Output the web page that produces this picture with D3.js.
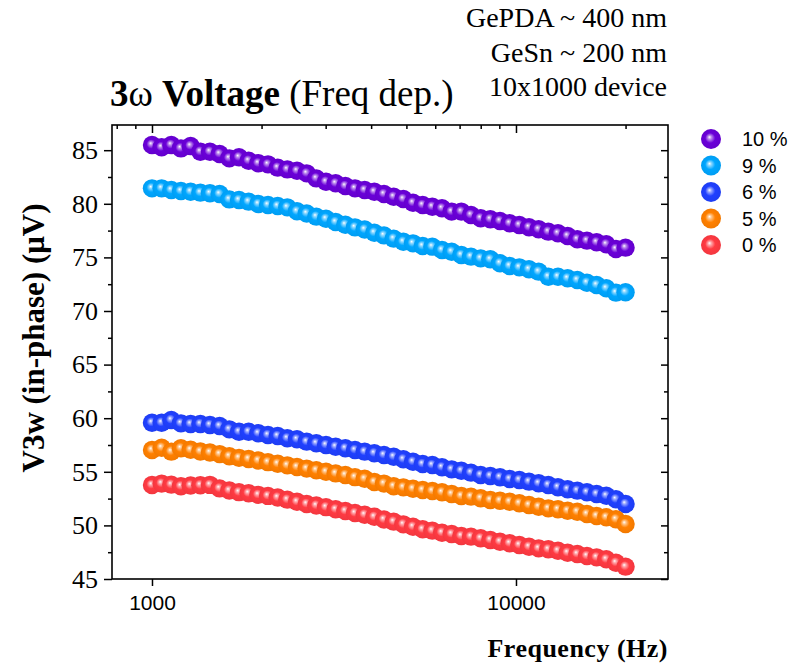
<!DOCTYPE html>
<html>
<head>
<meta charset="utf-8">
<script src="https://cdn.jsdelivr.net/npm/d3@7"></script>
<style>
  html, body { margin: 0; padding: 0; background: #fff; }
  svg { display: block; }
</style>
</head>
<body>
<svg id="chart" width="793" height="667"></svg>
<script>
// Measurement frequencies (Hz), log-spaced sweep
const freqHz = [1000, 1063, 1130, 1201, 1277, 1358, 1443, 1534, 1631, 1734,
  1843, 1960, 2083, 2215, 2354, 2503, 2661, 2828, 3007, 3196,
  3398, 3612, 3840, 4082, 4339, 4613, 4904, 5213, 5542, 5891,
  6263, 6657, 7077, 7523, 7998, 8502, 9038, 9608, 10214, 10858,
  11542, 12270, 13043, 13865, 14739, 15668, 16656, 17706, 18822, 20000];

// In-phase 3ω voltage (µV) per Sn content
const v10 = [85.49, 85.27, 85.49, 85.17, 85.39, 84.86, 84.86, 84.65, 84.24, 84.34,
  84.02, 83.78, 83.68, 83.37, 83.21, 83.08, 82.84, 82.37, 82.06, 81.91,
  81.66, 81.44, 81.29, 81.13, 80.91, 80.66, 80.45, 80.10, 79.89, 79.73,
  79.58, 79.27, 79.27, 78.96, 78.65, 78.56, 78.40, 78.18, 78.02, 77.81,
  77.62, 77.40, 77.25, 77.00, 76.69, 76.56, 76.41, 76.22, 75.78, 75.91];
const v9 = [81.44, 81.44, 81.29, 81.19, 81.13, 81.04, 80.98, 80.91, 80.41, 80.35,
  80.20, 79.98, 79.89, 79.79, 79.67, 79.30, 79.10, 78.80, 78.60, 78.30,
  78.05, 77.80, 77.60, 77.30, 77.05, 76.75, 76.46, 76.31, 76.06, 76.00,
  75.69, 75.53, 75.22, 75.07, 74.91, 74.82, 74.45, 74.20, 74.07, 73.89,
  73.67, 73.20, 73.20, 73.05, 72.89, 72.64, 72.43, 72.12, 71.71, 71.75];
const v6 = [59.58, 59.58, 59.83, 59.52, 59.46, 59.46, 59.37, 59.27, 58.96, 58.74,
  58.74, 58.59, 58.43, 58.34, 58.13, 58.03, 57.81, 57.66, 57.50, 57.34,
  57.19, 57.03, 56.88, 56.73, 56.57, 56.41, 56.17, 55.94, 55.73, 55.63,
  55.42, 55.23, 55.10, 54.92, 54.70, 54.61, 54.49, 54.33, 54.24, 54.08,
  53.93, 53.77, 53.56, 53.37, 53.24, 53.09, 52.93, 52.77, 52.44, 52.00];
const v5 = [57.03, 57.25, 56.88, 57.19, 57.05, 56.90, 56.80, 56.65, 56.45, 56.30,
  56.20, 56.05, 55.90, 55.75, 55.60, 55.45, 55.30, 55.15, 55.00, 54.85,
  54.70, 54.50, 54.35, 54.05, 53.90, 53.65, 53.55, 53.42, 53.30, 53.21,
  53.09, 52.93, 52.74, 52.68, 52.53, 52.37, 52.30, 52.21, 52.06, 51.90,
  51.74, 51.59, 51.50, 51.37, 51.28, 51.06, 50.88, 50.76, 50.57, 50.13];
const v0 = [53.77, 53.90, 53.80, 53.65, 53.72, 53.75, 53.78, 53.45, 53.25, 53.10,
  53.00, 52.85, 52.75, 52.60, 52.40, 52.20, 52.00, 51.85, 51.70, 51.50,
  51.35, 51.15, 51.00, 50.80, 50.55, 50.35, 50.10, 49.88, 49.64, 49.51,
  49.32, 49.20, 49.01, 48.95, 48.80, 48.64, 48.48, 48.33, 48.17, 48.01,
  47.86, 47.77, 47.64, 47.45, 47.33, 47.15, 47.02, 46.84, 46.52, 46.15];

const seriesNames = ["10 %", "9 %", "6 %", "5 %", "0 %"];
const seriesColors = ["#6a00d8", "#00a6ff", "#2040ff", "#ff8000", "#ff3a42"];
const seriesValues = [v10, v9, v6, v5, v0];

const yTicks = [45, 50, 55, 60, 65, 70, 75, 80, 85];
const yMinorTicks = [47.5, 52.5, 57.5, 62.5, 67.5, 72.5, 77.5, 82.5, 87.5];
const xTicks = [1000, 10000];
const xMinorTicks = [800, 900, 2000, 3000, 4000, 5000, 6000, 7000, 8000, 9000, 20000];

const annotations = ["GePDA ~ 400 nm", "GeSn ~ 200 nm", "10x1000 device"];

// Layout
const plot = { left: 112, right: 668, top: 125, bottom: 579 };
const serif = "'Liberation Serif', 'Times New Roman', serif";
const sans = "'Liberation Sans', Arial, sans-serif";

const svg = d3.select("#chart");

const x = d3.scaleLog().domain([776.5, 26160]).range([plot.left, plot.right]);
const y = d3.scaleLinear().domain([45, 87.35]).range([plot.bottom, plot.top]);

// Shaded-sphere gradients for markers
const defs = svg.append("defs");
seriesColors.forEach((c, i) => {
  const g = defs.append("radialGradient")
    .attr("id", "ball" + i)
    .attr("cx", "50%").attr("cy", "50%").attr("r", "50%")
    .attr("fx", "42%").attr("fy", "40%");
  g.append("stop").attr("offset", "0%").attr("stop-color", "#ffffff");
  g.append("stop").attr("offset", "18%").attr("stop-color", d3.interpolateRgb(c, "#ffffff")(0.55));
  g.append("stop").attr("offset", "50%").attr("stop-color", c);
  g.append("stop").attr("offset", "100%").attr("stop-color", d3.color(c).darker(0.15));
});

// Data markers
const markerR = 9.2;
seriesValues.forEach((vals, si) => {
  svg.append("g")
    .selectAll("circle")
    .data(vals.map((v, i) => ({ f: freqHz[i], v })))
    .join("circle")
    .attr("cx", d => x(d.f))
    .attr("cy", d => y(d.v))
    .attr("r", markerR)
    .attr("fill", `url(#ball${si})`);
});

// Axes
function styleAxis(g) {
  g.select(".domain").remove();
  g.selectAll(".tick line").attr("stroke", "#000").attr("stroke-width", 1.5);
}

// Left: outward ticks with labels
svg.append("g").attr("transform", `translate(${plot.left},0)`)
  .call(d3.axisLeft(y).tickValues(yTicks).tickSize(8).tickPadding(6).tickFormat(d3.format("d")))
  .call(styleAxis)
  .call(g => g.selectAll("text")
    .attr("font-family", serif).attr("font-size", 26).attr("fill", "#000"));
svg.append("g").attr("transform", `translate(${plot.left},0)`)
  .call(d3.axisLeft(y).tickValues(yMinorTicks.filter(v => v < 87.35)).tickSize(4).tickFormat(""))
  .call(styleAxis);

// Right: inward ticks
svg.append("g").attr("transform", `translate(${plot.right},0)`)
  .call(d3.axisRight(y).tickValues(yTicks).tickSize(-7).tickFormat(""))
  .call(styleAxis);
svg.append("g").attr("transform", `translate(${plot.right},0)`)
  .call(d3.axisRight(y).tickValues(yMinorTicks.filter(v => v < 87.35)).tickSize(-4).tickFormat(""))
  .call(styleAxis);

// Bottom: outward major ticks with labels
svg.append("g").attr("transform", `translate(0,${plot.bottom})`)
  .call(d3.axisBottom(x).tickValues(xTicks).tickSize(7).tickPadding(9).tickFormat(d3.format("d")))
  .call(styleAxis)
  .call(g => g.selectAll("text")
    .attr("font-family", sans).attr("font-size", 21).attr("fill", "#000"));

// Top: inward ticks
svg.append("g").attr("transform", `translate(0,${plot.top})`)
  .call(d3.axisTop(x).tickValues(xTicks).tickSize(-8).tickFormat(""))
  .call(styleAxis);
svg.append("g").attr("transform", `translate(0,${plot.top})`)
  .call(d3.axisTop(x).tickValues(xMinorTicks).tickSize(-4).tickFormat(""))
  .call(styleAxis);

// Frame
svg.append("rect")
  .attr("x", plot.left).attr("y", plot.top)
  .attr("width", plot.right - plot.left).attr("height", plot.bottom - plot.top)
  .attr("fill", "none").attr("stroke", "#000").attr("stroke-width", 1.6);

// Axis titles
svg.append("text")
  .attr("x", plot.right).attr("y", 657)
  .attr("text-anchor", "end")
  .attr("font-family", serif).attr("font-weight", "bold").attr("font-size", 26)
  .attr("letter-spacing", 0.5)
  .text("Frequency (Hz)");

svg.append("text")
  .attr("transform", `translate(44,338) rotate(-90)`)
  .attr("text-anchor", "middle")
  .attr("font-family", serif).attr("font-weight", "bold").attr("font-size", 31)
  .text("V3w (in-phase) (μV)");

// Title
const title = svg.append("text")
  .attr("x", 110).attr("y", 106)
  .attr("font-family", serif).attr("font-size", 37).attr("fill", "#000");
title.append("tspan").attr("font-weight", "bold").text("3");
title.append("tspan").text("ω");
title.append("tspan").attr("font-weight", "bold").text(" Voltage ");
title.append("tspan").text("(Freq dep.)");

// Sample notes, top right
svg.append("g").selectAll("text")
  .data(annotations)
  .join("text")
  .attr("x", plot.right - 1)
  .attr("y", (d, i) => 27 + i * 34.5)
  .attr("text-anchor", "end")
  .attr("font-family", serif).attr("font-size", 28).attr("fill", "#000")
  .text(d => d);

// Legend
const legendRows = [139, 165.5, 192, 218.5, 245];
const legend = svg.append("g");
seriesNames.forEach((name, i) => {
  legend.append("circle")
    .attr("cx", 711).attr("cy", legendRows[i]).attr("r", 10)
    .attr("fill", `url(#ball${i})`);
  legend.append("text")
    .attr("x", 742).attr("y", legendRows[i])
    .attr("dy", "0.36em")
    .attr("font-family", sans).attr("font-size", 20).attr("fill", "#000")
    .text(name);
});
</script>
</body>
</html>
